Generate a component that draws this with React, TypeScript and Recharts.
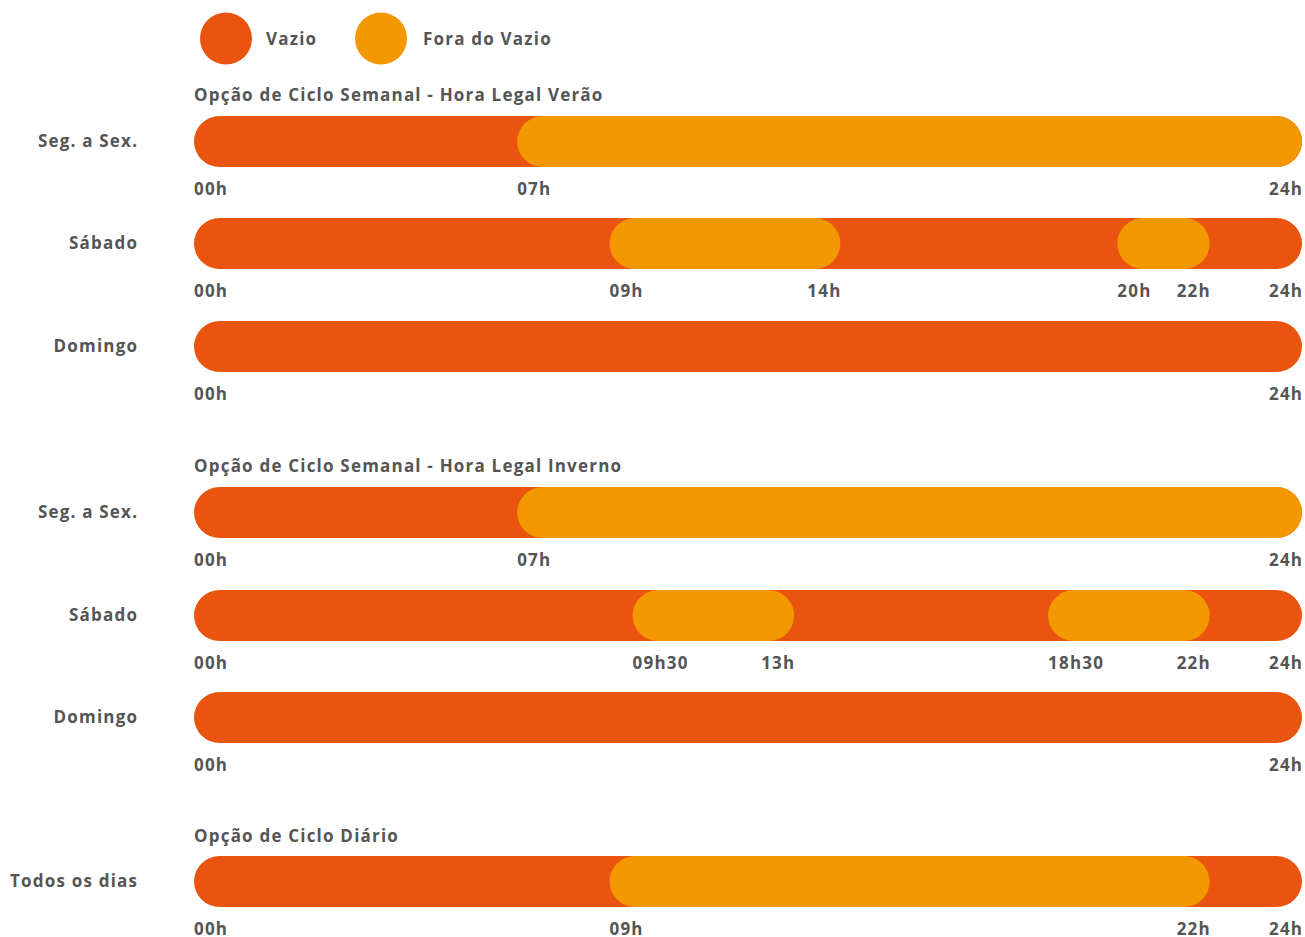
import React from 'react';
import { BarChart, Bar, XAxis, YAxis } from 'recharts';

const VAZIO = '#E9540F';
const FORA = '#F39800';
const TEXT = '#555555';
const FONT = '"Open Sans", Lato, sans-serif';
const LS = 1.2;

// tariff cycles: orange (fora do vazio) intervals, hours 0-24
const sections = ['Opção de Ciclo Semanal - Hora Legal Verão', 'Opção de Ciclo Semanal - Hora Legal Inverno', 'Opção de Ciclo Diário'];
const dayLabels = ['Seg. a Sex.', 'Sábado', 'Domingo', 'Seg. a Sex.', 'Sábado', 'Domingo', 'Todos os dias'];
const foraIntervals: [number, number][][] = [
  [[7, 24]],
  [[9, 14], [20, 22]],
  [],
  [[7, 24]],
  [[9.5, 13], [18.5, 22]],
  [],
  [[9, 22]],
];
const rowCenters = [140.5, 243, 345.5, 511.5, 614.5, 716.5, 881];
const titleCenters = [95, 466, 836];

const fmtHour = (h: number) => {
  const hh = String(Math.floor(h)).padStart(2, '0');
  const mm = h % 1 ? String(Math.round((h % 1) * 60)).padStart(2, '0') : '';
  return `${hh}h${mm}`;
};

function TimelineRow({ label, intervals, top }: { label: string; intervals: [number, number][]; top: number }) {
  const row: any = { name: label, full: [0, 24] };
  intervals.forEach((iv, i) => (row[`s${i}`] = iv));
  const ticks = [0, ...intervals.flat(), 24].filter((v, i, a) => a.indexOf(v) === i).sort((a, b) => a - b);
  const starts = intervals.map((iv) => iv[0]);

  const XTick = ({ x, y, payload }: any) => {
    const v = payload.value;
    const anchor = v === 0 || (starts.includes(v) && v !== 24) ? 'start' : 'end';
    return (
      <text x={anchor === 'end' ? x + LS : x} y={y + 27.5} textAnchor={anchor} fill={TEXT} fontSize={17} fontWeight={700} fontFamily={FONT} letterSpacing={LS}>
        {fmtHour(v)}
      </text>
    );
  };
  const YTick = ({ y, payload }: any) => (
    <text x={137 + LS} y={y} dy={6} textAnchor="end" fill={TEXT} fontSize={17} fontWeight={700} fontFamily={FONT} letterSpacing={LS}>
      {payload.value}
    </text>
  );

  return (
    <div style={{ position: 'absolute', left: 0, top }}>
      <BarChart width={1305} height={104} data={[row]} layout="vertical" barGap={-51} margin={{ top: 14, right: 3, bottom: 0, left: 0 }}>
        <XAxis type="number" domain={[0, 24]} ticks={ticks} tick={<XTick />} axisLine={false} tickLine={false} tickSize={0} tickMargin={0} height={38} interval={0} />
        <YAxis type="category" dataKey="name" width={194} axisLine={false} tickLine={false} tick={<YTick />} />
        <Bar dataKey="full" fill={VAZIO} barSize={51} radius={25.5} isAnimationActive={false} />
        {intervals.map((_, i) => (
          <Bar key={i} dataKey={`s${i}`} fill={FORA} barSize={51} radius={25.5} isAnimationActive={false} />
        ))}
      </BarChart>
    </div>
  );
}

export default function App() {
  return (
    <div style={{ position: 'absolute', left: 0, top: 0, width: 1305, height: 937, background: '#fff', fontFamily: FONT, color: TEXT, overflow: 'hidden' }}>
      <svg width={600} height={80} style={{ position: 'absolute', left: 0, top: 0 }}>
        <circle cx={226} cy={38.5} r={26} fill={VAZIO} />
        <text x={266} y={44.5} fill={TEXT} fontSize={17} fontWeight={700} fontFamily={FONT} letterSpacing={LS}>Vazio</text>
        <circle cx={381} cy={38.5} r={26} fill={FORA} />
        <text x={423} y={44.5} fill={TEXT} fontSize={17} fontWeight={700} fontFamily={FONT} letterSpacing={LS}>Fora do Vazio</text>
      </svg>
      {sections.map((s, i) => (
        <div key={s} style={{ position: 'absolute', left: 194, top: titleCenters[i] - 12, fontSize: 17, fontWeight: 700, lineHeight: '24px', whiteSpace: 'nowrap', letterSpacing: LS }}>
          {s}
        </div>
      ))}
      {dayLabels.map((d, i) => (
        <TimelineRow key={i} label={d} intervals={foraIntervals[i]} top={rowCenters[i] - 40} />
      ))}
    </div>
  );
}
